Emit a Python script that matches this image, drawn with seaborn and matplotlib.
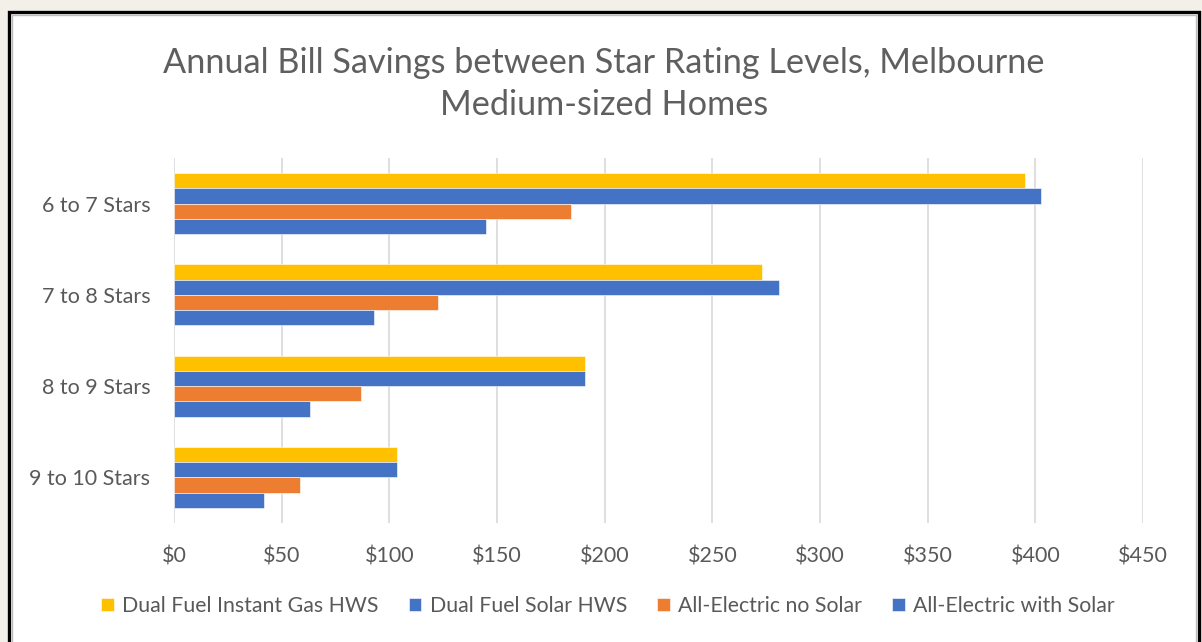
import matplotlib
matplotlib.use("Agg")
import matplotlib.pyplot as plt
from matplotlib.patches import Rectangle
import seaborn as sns
import pandas as pd

categories = ["6 to 7 Stars", "7 to 8 Stars", "8 to 9 Stars", "9 to 10 Stars"]
series_names = ["Dual Fuel Instant Gas HWS", "Dual Fuel Solar HWS",
                "All-Electric no Solar", "All-Electric with Solar"]
gas_instant = [395, 273, 191, 103.5]
gas_solar = [402.5, 281, 191, 103.5]
elec_no_solar = [184.5, 122.5, 87, 58.5]
elec_solar = [145, 93, 63, 42]
xticks = [0, 50, 100, 150, 200, 250, 300, 350, 400, 450]
colors = ["#FFC000", "#4472C4", "#ED7D31", "#4472C4"]

rows = []
for name, vals in zip(series_names, [gas_instant, gas_solar, elec_no_solar, elec_solar]):
    for c, v in zip(categories, vals):
        rows.append({"category": c, "series": name, "value": v})
df = pd.DataFrame(rows)

sns.set_theme(style="white")
plt.rcParams["font.family"] = ["Lato", "DejaVu Sans"]
text_color = "#595959"

fig = plt.figure(figsize=(12.02, 6.42), dpi=100)
fig.patch.set_facecolor("#F3EFE9")
W, H = 1202, 642
# white chart area with black border
fig.patches.append(Rectangle((9 / W, -0.05), (1198.5 - 9) / W, 1.05 - 12 / H,
                             transform=fig.transFigure, facecolor="white",
                             edgecolor="black", linewidth=2.4, zorder=-2))
fig.patches.append(Rectangle((11.5 / W, -0.05), (1196 - 11.5) / W, 1.05 - 14.5 / H,
                             transform=fig.transFigure, facecolor="none",
                             edgecolor="#BBBBBB", linewidth=1.0, zorder=-1))

ax = fig.add_axes([174 / W, 1 - 523 / H, (1143 - 174) / W, (523 - 158) / H])
ax.set_facecolor("none")
ax.set_zorder(2)
palette = dict(zip(series_names, colors))
sns.barplot(data=df, y="category", x="value", hue="series", orient="h",
            palette=palette, width=0.67, dodge=True, ax=ax, saturation=1,
            edgecolor="#FFFFFF", linewidth=0.4, order=categories,
            hue_order=series_names)

ax.set_xlim(0, 450)
ax.set_ylim(3.5, -0.5)
ax.set_xticks(xticks)
ax.set_xticklabels([f"${t}" for t in xticks])
ax.xaxis.grid(True, color="#D9D9D9", linewidth=1.2)
ax.set_axisbelow(True)
for s in ax.spines.values():
    s.set_visible(False)
ax.tick_params(axis="x", length=0, pad=17, labelsize=15.5, labelcolor=text_color)
ax.tick_params(axis="y", length=0, pad=17, labelsize=15.5, labelcolor=text_color)
ax.set_xlabel("")
ax.set_ylabel("")

handles, labels = ax.get_legend_handles_labels()
ax.get_legend().remove()
leg = fig.legend(handles, labels, loc="center", bbox_to_anchor=(608 / W, 1 - 606 / H),
                 ncol=4, frameon=False, fontsize=15.3, handlelength=0.6,
                 handleheight=0.6, handletextpad=0.4, columnspacing=1.4)
for t in leg.get_texts():
    t.set_color(text_color)

fig.text(604 / W, 1 - 84 / H,
         "Annual Bill Savings between Star Rating Levels, Melbourne\nMedium-sized Homes",
         ha="center", va="center", fontsize=24.7, color="#5F5F5F",
         linespacing=1.35)

fig.savefig("out.png", dpi=100, facecolor=fig.get_facecolor())
